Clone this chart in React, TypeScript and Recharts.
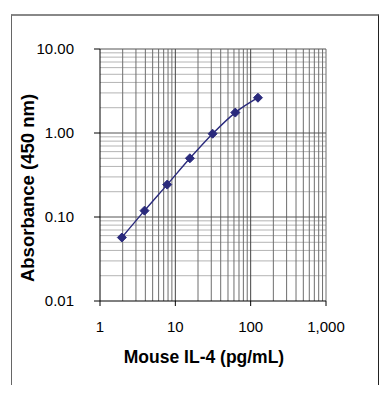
import { LineChart, Line, XAxis, YAxis, ReferenceLine, Label } from 'recharts';

const concentrations = [1.95, 3.9, 7.8, 15.6, 31.25, 62.5, 125];
const absorbance = [0.057, 0.119, 0.243, 0.5, 0.98, 1.75, 2.63];

const xTicks = [1, 10, 100, 1000];
const yTicks = [0.01, 0.1, 1, 10];

const xMinorGrid = [2, 3, 4, 5, 6, 7, 8, 9, 20, 30, 40, 50, 60, 70, 80, 90, 200, 300, 400, 500, 600, 700, 800, 900, 1000];
const xMajorGrid = [10, 100];
const yMinorGrid = [0.02, 0.03, 0.04, 0.05, 0.06, 0.07, 0.08, 0.09, 0.2, 0.3, 0.4, 0.5, 0.6, 0.7, 0.8, 0.9, 2, 3, 4, 5, 6, 7, 8, 9];
const yMajorGrid = [0.1, 1, 10];

const data = concentrations.map((c, i) => ({ conc: c, abs: absorbance[i] }));

const FONT = '"Liberation Sans", Arial, sans-serif';
const NAVY = '#2a2a7c';

function Diamond({ cx, cy }: any) {
  if (cx == null || cy == null) return null;
  const r = 4.5;
  return (
    <polygon
      points={`${cx},${cy - r} ${cx + r},${cy} ${cx},${cy + r} ${cx - r},${cy}`}
      fill={NAVY}
      stroke={NAVY}
    />
  );
}

export default function App() {
  return (
    <div style={{ position: 'absolute', left: 0, top: 0, width: 391, height: 399, background: '#fff' }}>
      <div
        style={{
          position: 'absolute',
          left: 11,
          top: 14,
          width: 366,
          height: 369,
          borderLeft: '1px solid #666',
          borderTop: '2px solid #888',
          borderRight: '1px solid #222',
        }}
      />
      <div style={{ position: 'absolute', left: 0, top: 0 }}>
        <LineChart width={391} height={399} data={data} margin={{ top: 49, right: 65, left: 40, bottom: 68 }}>
          <XAxis
            dataKey="conc"
            type="number"
            scale="log"
            domain={[1, 1000]}
            ticks={xTicks}
            allowDataOverflow
            height={30}
            tickFormatter={(v: number) => v.toLocaleString('en-US')}
            tick={{ fill: '#000', fontSize: 15, fontFamily: FONT }}
            tickSize={5}
            tickMargin={15}
            axisLine={{ stroke: '#000' }}
            tickLine={{ stroke: '#000' }}
          >
            <Label
              content={({ viewBox }: any) => (
                <text
                  x={viewBox.x + viewBox.width / 2 - 9}
                  y={363}
                  textAnchor="middle"
                  fontFamily={FONT}
                  fontWeight="bold"
                  fontSize={17.5}
                  fill="#000"
                >
                  Mouse IL-4 (pg/mL)
                </text>
              )}
            />
          </XAxis>
          <YAxis
            dataKey="abs"
            type="number"
            scale="log"
            domain={[0.01, 10]}
            ticks={yTicks}
            allowDataOverflow
            width={60}
            tickFormatter={(v: number) => v.toFixed(2)}
            tick={{ fill: '#000', fontSize: 15, fontFamily: FONT }}
            tickSize={6}
            tickMargin={20}
            axisLine={{ stroke: '#000' }}
            tickLine={{ stroke: '#000' }}
          >
            <Label
              content={({ viewBox }: any) => {
                const cy = viewBox.y + viewBox.height / 2 + 13;
                return (
                  <text
                    x={27}
                    y={cy}
                    transform={`rotate(-90 27 ${cy})`}
                    textAnchor="middle"
                    dominantBaseline="central"
                    fontFamily={FONT}
                    fontWeight="bold"
                    fontSize={18.5}
                    fill="#000"
                  >
                    Absorbance (450 nm)
                  </text>
                );
              }}
            />
          </YAxis>
          {yMinorGrid.map((v) => (
            <ReferenceLine key={`ym${v}`} y={v} stroke="#b4b4b4" strokeWidth={1} />
          ))}
          {xMinorGrid.map((v) => (
            <ReferenceLine key={`xm${v}`} x={v} stroke="#6e6e6e" strokeWidth={1} />
          ))}
          {yMajorGrid.map((v) => (
            <ReferenceLine key={`yM${v}`} y={v} stroke="#555" strokeWidth={1} />
          ))}
          {xMajorGrid.map((v) => (
            <ReferenceLine key={`xM${v}`} x={v} stroke="#444" strokeWidth={1} />
          ))}
          <Line
            type="monotone"
            dataKey="abs"
            stroke={NAVY}
            strokeWidth={1.4}
            dot={<Diamond />}
            activeDot={false}
            isAnimationActive={false}
          />
        </LineChart>
      </div>
    </div>
  );
}
